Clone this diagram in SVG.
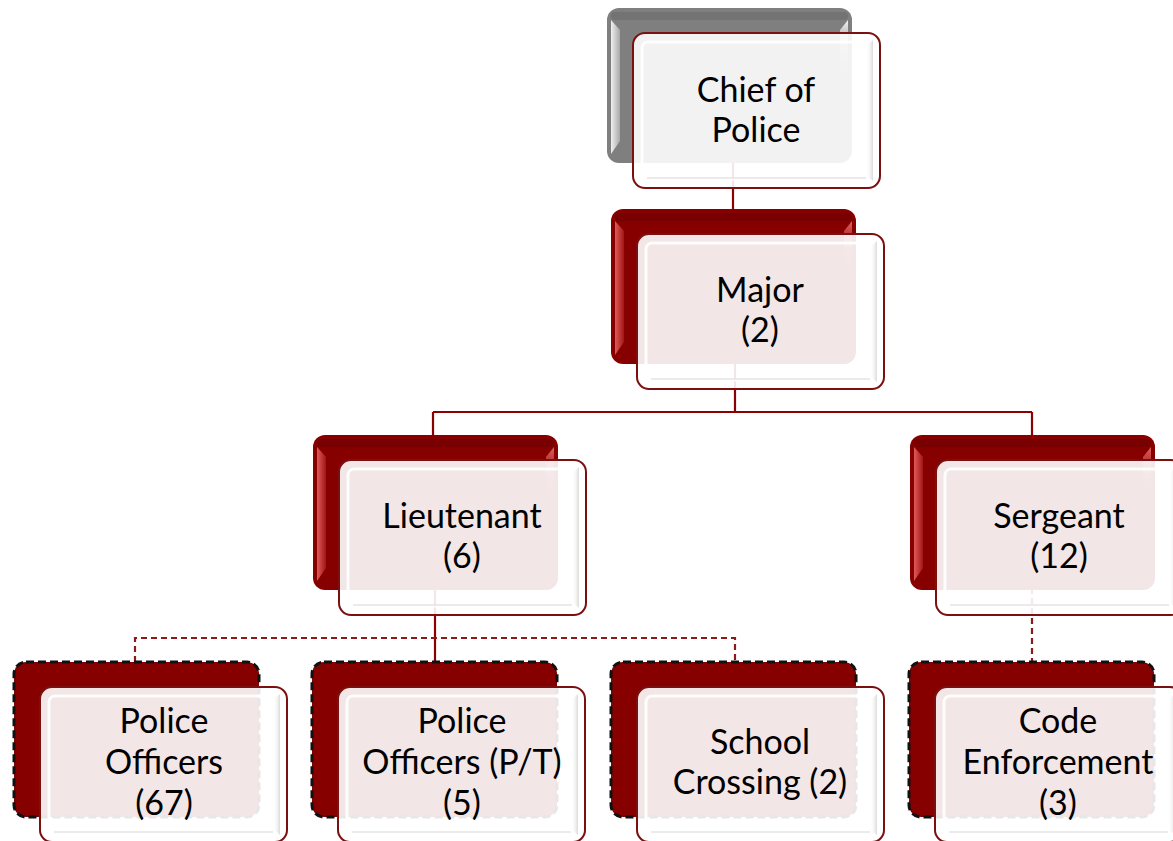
<svg xmlns="http://www.w3.org/2000/svg" width="1173" height="841" viewBox="0 0 1173 841">
  <defs>
    <linearGradient id="bevelRed" x1="0" y1="0" x2="1" y2="0">
      <stop offset="0" stop-color="#e05a5a"/>
      <stop offset="1" stop-color="#a31515"/>
    </linearGradient>
    <linearGradient id="bevelRedR" x1="0" y1="0" x2="0" y2="1">
      <stop offset="0" stop-color="#e06060"/>
      <stop offset="1" stop-color="#8a0000" stop-opacity="0"/>
    </linearGradient>
    <linearGradient id="bevelGray" x1="0" y1="0" x2="1" y2="0">
      <stop offset="0" stop-color="#f0f0f0"/>
      <stop offset="1" stop-color="#a8a8a8"/>
    </linearGradient>
    <linearGradient id="bevelGrayR" x1="0" y1="0" x2="0" y2="1">
      <stop offset="0" stop-color="#f4f4f4"/>
      <stop offset="1" stop-color="#808080" stop-opacity="0"/>
    </linearGradient>
    <linearGradient id="faceShade" x1="0" y1="0" x2="1" y2="0">
      <stop offset="0" stop-color="#ffffff" stop-opacity="0"/>
      <stop offset="1" stop-color="#bdbdbd" stop-opacity="0.55"/>
    </linearGradient>
    <style>
      .back { fill: #870000; }
      .back.gray { fill: #7f7f7f; }
      .back.dash { stroke: #111; stroke-width: 3; stroke-dasharray: 8 4; }
      .front { fill: #ffffff; fill-opacity: 0.9; stroke: #7b1010; stroke-width: 2; }
      .label { font-family: Lato, "Liberation Sans", sans-serif; font-size: 34px; fill: #000; text-anchor: middle; }
      .link { fill: none; stroke: #8b0000; stroke-width: 2.2; }
      .link.dashed { stroke: #8b1a1a; stroke-dasharray: 6 4; }
    </style>
    <!-- bevel decoration for a red back plate -->
    <g id="backBevel">
      <rect x="4" y="4" width="237" height="8" rx="4" fill="#6e0000" opacity="0.6"/>
      <polygon points="4,12 13,22 13,133 4,146" fill="url(#bevelRed)"/>
      <polygon points="241,12 233,22 233,70 241,60" fill="url(#bevelRedR)"/>
    </g>
    <!-- bevel decoration for the gray back plate -->
    <g id="backBevelGray">
      <rect x="4" y="4" width="237" height="8" rx="4" fill="#6a6a6a" opacity="0.6"/>
      <polygon points="4,12 13,22 13,133 4,146" fill="url(#bevelGray)"/>
      <polygon points="241,12 233,22 233,70 241,60" fill="url(#bevelGrayR)"/>
    </g>
    <!-- bevel decoration for the front face -->
    <g id="frontBevel">
      <rect x="35" y="34" width="229" height="137" rx="6" fill="none" stroke="#ffffff" stroke-width="3" opacity="0.9"/>
      <polygon points="259,38 266,32 266,173 259,167" fill="url(#faceShade)"/>
      <line x1="40" y1="170" x2="259" y2="170" stroke="#d8d8d8" stroke-width="1.2"/>
    </g>
  </defs>

  <!-- connectors -->
  <g id="connectors">
    <line class="link" x1="733" y1="163" x2="733" y2="209"/>
    <path class="link" d="M735,363 V412 M433,412 H1032 M433,412 V435 M1032,412 V435"/>
    <line class="link" x1="435" y1="588" x2="435" y2="662"/>
    <path class="link dashed" d="M135,662 V638 H735 V662"/>
    <line class="link dashed" x1="1032" y1="588" x2="1032" y2="662"/>
  </g>

  <!-- Chief of Police -->
  <g id="chief" transform="translate(607,8)">
    <rect class="back gray" x="0" y="0" width="245" height="155" rx="12"/>
    <use href="#backBevelGray"/>
    <rect class="front" x="26" y="25" width="247" height="155" rx="12"/>
    <use href="#frontBevel"/>
    <text class="label" x="149" y="94">Chief of</text>
    <text class="label" x="149" y="134">Police</text>
  </g>

  <!-- Major -->
  <g id="major" transform="translate(611,209)">
    <rect class="back" x="0" y="0" width="245" height="155" rx="12"/>
    <use href="#backBevel"/>
    <rect class="front" x="26" y="25" width="247" height="155" rx="12"/>
    <use href="#frontBevel"/>
    <text class="label" x="149" y="93">Major</text>
    <text class="label" x="149" y="133">(2)</text>
  </g>

  <!-- Lieutenant -->
  <g id="lieutenant" transform="translate(313,435)">
    <rect class="back" x="0" y="0" width="245" height="155" rx="12"/>
    <use href="#backBevel"/>
    <rect class="front" x="26" y="25" width="247" height="155" rx="12"/>
    <use href="#frontBevel"/>
    <text class="label" x="149" y="93">Lieutenant</text>
    <text class="label" x="149" y="133">(6)</text>
  </g>

  <!-- Sergeant -->
  <g id="sergeant" transform="translate(910,435)">
    <rect class="back" x="0" y="0" width="245" height="155" rx="12"/>
    <use href="#backBevel"/>
    <rect class="front" x="26" y="25" width="247" height="155" rx="12"/>
    <use href="#frontBevel"/>
    <text class="label" x="149" y="93">Sergeant</text>
    <text class="label" x="149" y="133">(12)</text>
  </g>

  <!-- Police Officers -->
  <g id="police-officers" transform="translate(14,662)">
    <rect class="back dash" x="0" y="0" width="245" height="155" rx="12"/>
    <rect class="front" x="26" y="25" width="247" height="155" rx="12"/>
    <use href="#frontBevel"/>
    <text class="label" x="150" y="71">Police</text>
    <text class="label" x="150" y="112">Officers</text>
    <text class="label" x="150" y="153">(67)</text>
  </g>

  <!-- Police Officers (P/T) -->
  <g id="police-officers-pt" transform="translate(312,662)">
    <rect class="back dash" x="0" y="0" width="245" height="155" rx="12"/>
    <rect class="front" x="26" y="25" width="247" height="155" rx="12"/>
    <use href="#frontBevel"/>
    <text class="label" x="150" y="71">Police</text>
    <text class="label" x="150" y="112">Officers (P/T)</text>
    <text class="label" x="150" y="153">(5)</text>
  </g>

  <!-- School Crossing -->
  <g id="school-crossing" transform="translate(611,662)">
    <rect class="back dash" x="0" y="0" width="245" height="155" rx="12"/>
    <rect class="front" x="26" y="25" width="247" height="155" rx="12"/>
    <use href="#frontBevel"/>
    <text class="label" x="149" y="92">School</text>
    <text class="label" x="149" y="132">Crossing (2)</text>
  </g>

  <!-- Code Enforcement -->
  <g id="code-enforcement" transform="translate(909,662)">
    <rect class="back dash" x="0" y="0" width="245" height="155" rx="12"/>
    <rect class="front" x="26" y="25" width="247" height="155" rx="12"/>
    <use href="#frontBevel"/>
    <text class="label" x="149" y="71">Code</text>
    <text class="label" x="149" y="112">Enforcement</text>
    <text class="label" x="149" y="153">(3)</text>
  </g>
</svg>
